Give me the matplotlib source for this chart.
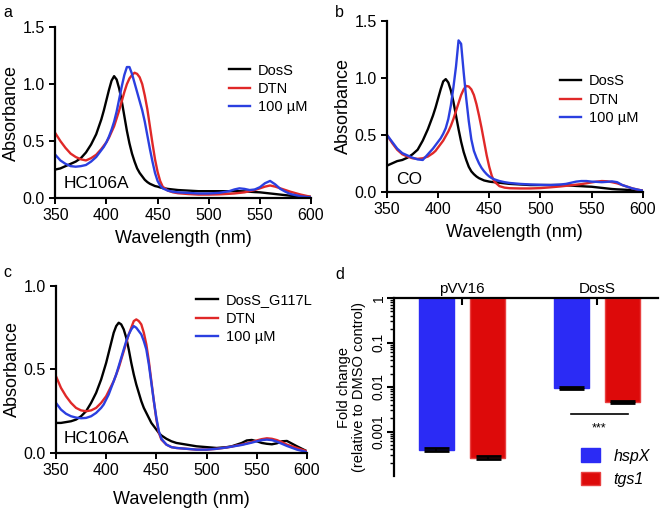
import matplotlib
matplotlib.use("Agg")
import matplotlib.pyplot as plt
from matplotlib.patches import Patch

plt.rcParams['font.family'] = ['Liberation Sans', 'DejaVu Sans']

# wavelength grid (nm) used for all spectra
wl = [350, 355, 360, 365, 370, 375, 380, 385,
      390, 395, 397.5, 400, 402.5, 405, 407.5, 410,
      412.5, 415, 417.5, 420, 422.5, 425, 427.5, 430,
      432.5, 435, 437.5, 440, 442.5, 445, 447.5, 450,
      452.5, 455, 460, 465, 470, 480, 490, 500,
      510, 520, 525, 530, 535, 540, 545, 550,
      555, 560, 565, 570, 575, 580, 590, 600]

# panel a : HC106A
a_doss = [0.25, 0.26, 0.28, 0.30, 0.32, 0.35, 0.40, 0.47,
          0.56, 0.69, 0.77, 0.86, 0.95, 1.03, 1.07, 1.04,
          0.96, 0.85, 0.72, 0.59, 0.48, 0.39, 0.32, 0.26,
          0.22, 0.19, 0.16, 0.14, 0.125, 0.115, 0.105, 0.10,
          0.093, 0.088, 0.08, 0.075, 0.07, 0.065, 0.06, 0.06,
          0.06, 0.06, 0.06, 0.06, 0.058, 0.055, 0.052, 0.05,
          0.045, 0.04, 0.035, 0.03, 0.025, 0.02, 0.015, 0.01]
a_dtn = [0.57, 0.50, 0.44, 0.39, 0.36, 0.34, 0.33, 0.35,
         0.38, 0.43, 0.46, 0.49, 0.53, 0.58, 0.63, 0.70,
         0.77, 0.85, 0.93, 1.00, 1.05, 1.08, 1.10, 1.09,
         1.06, 1.00, 0.90, 0.78, 0.63, 0.48, 0.34, 0.23,
         0.15, 0.10, 0.065, 0.05, 0.042, 0.035, 0.03, 0.03,
         0.032, 0.037, 0.04, 0.045, 0.05, 0.06, 0.07, 0.085,
         0.10, 0.11, 0.10, 0.085, 0.07, 0.055, 0.03, 0.01]
a_100 = [0.38, 0.33, 0.30, 0.28, 0.275, 0.28, 0.29, 0.32,
         0.36, 0.42, 0.45, 0.49, 0.54, 0.60, 0.67, 0.76,
         0.87, 0.98, 1.08, 1.15, 1.15, 1.09, 1.01, 0.93,
         0.85, 0.77, 0.67, 0.55, 0.43, 0.32, 0.22, 0.15,
         0.11, 0.085, 0.065, 0.055, 0.05, 0.045, 0.04, 0.04,
         0.045, 0.06, 0.075, 0.085, 0.08, 0.07, 0.075, 0.095,
         0.13, 0.15, 0.12, 0.08, 0.055, 0.035, 0.015, 0.005]

# panel b : CO
b_doss = [0.23, 0.25, 0.27, 0.28, 0.30, 0.33, 0.37, 0.45,
          0.55, 0.67, 0.74, 0.82, 0.90, 0.97, 0.99, 0.96,
          0.89, 0.79, 0.67, 0.55, 0.44, 0.35, 0.28, 0.22,
          0.18, 0.155, 0.135, 0.12, 0.11, 0.10, 0.095, 0.09,
          0.087, 0.085, 0.08, 0.075, 0.07, 0.065, 0.06, 0.06,
          0.06, 0.06, 0.058, 0.055, 0.052, 0.05, 0.047, 0.045,
          0.04, 0.035, 0.03, 0.025, 0.022, 0.02, 0.015, 0.01]
b_dtn = [0.50, 0.43, 0.37, 0.33, 0.31, 0.295, 0.29, 0.295,
         0.31, 0.34, 0.36, 0.39, 0.42, 0.45, 0.49, 0.53,
         0.58, 0.64, 0.71, 0.78, 0.85, 0.90, 0.93, 0.925,
         0.90, 0.85, 0.77, 0.67, 0.56, 0.44, 0.32, 0.22,
         0.14, 0.09, 0.05, 0.037, 0.032, 0.03, 0.03, 0.033,
         0.04, 0.048, 0.053, 0.058, 0.063, 0.068, 0.075, 0.083,
         0.09, 0.095, 0.093, 0.085, 0.075, 0.06, 0.03, 0.01]
b_100 = [0.50, 0.44, 0.38, 0.34, 0.32, 0.30, 0.285, 0.28,
         0.33, 0.38, 0.41, 0.44, 0.47, 0.51, 0.56, 0.64,
         0.76, 0.92, 1.10, 1.33, 1.30, 1.05, 0.82, 0.62,
         0.46, 0.36, 0.30, 0.25, 0.21, 0.18, 0.155, 0.135,
         0.12, 0.11, 0.095, 0.085, 0.078, 0.07, 0.065, 0.062,
         0.06, 0.065, 0.07, 0.08, 0.09, 0.095, 0.095, 0.09,
         0.088, 0.085, 0.088, 0.092, 0.085, 0.06, 0.03, 0.01]

# panel c : HC106A, G117L mutant
c_doss = [0.18, 0.18, 0.185, 0.19, 0.20, 0.22, 0.25, 0.30,
          0.36, 0.44, 0.49, 0.54, 0.60, 0.66, 0.72, 0.76,
          0.78, 0.77, 0.74, 0.69, 0.62, 0.54, 0.47, 0.41,
          0.36, 0.31, 0.27, 0.24, 0.21, 0.18, 0.16, 0.14,
          0.12, 0.105, 0.085, 0.07, 0.06, 0.05, 0.04, 0.035,
          0.03, 0.035, 0.04, 0.05, 0.06, 0.075, 0.078, 0.07,
          0.06, 0.055, 0.052, 0.058, 0.07, 0.072, 0.04, 0.01]
c_dtn = [0.46, 0.39, 0.34, 0.30, 0.27, 0.255, 0.25, 0.255,
         0.27, 0.30, 0.32, 0.34, 0.37, 0.40, 0.43, 0.47,
         0.51, 0.56, 0.61, 0.66, 0.71, 0.75, 0.79, 0.80,
         0.79, 0.77, 0.72, 0.65, 0.55, 0.43, 0.31, 0.20,
         0.12, 0.08, 0.05, 0.035, 0.03, 0.025, 0.02, 0.02,
         0.025, 0.033, 0.038, 0.045, 0.05, 0.058, 0.066, 0.075,
         0.083, 0.088, 0.085, 0.077, 0.065, 0.05, 0.03, 0.01]
c_100 = [0.30, 0.26, 0.235, 0.22, 0.212, 0.208, 0.21, 0.22,
         0.24, 0.27, 0.29, 0.32, 0.35, 0.39, 0.43, 0.47,
         0.52, 0.57, 0.62, 0.67, 0.71, 0.74, 0.76, 0.75,
         0.73, 0.71, 0.67, 0.62, 0.53, 0.42, 0.31, 0.21,
         0.13, 0.085, 0.05, 0.035, 0.03, 0.025, 0.02, 0.02,
         0.025, 0.033, 0.038, 0.043, 0.048, 0.055, 0.062, 0.07,
         0.077, 0.08, 0.077, 0.068, 0.055, 0.042, 0.02, 0.005]

# panel d : fold change
strains = ["pVV16", "DosS"]
hspx = [3.9e-4, 0.0095]
tgs1 = [2.6e-4, 0.0046]
hspx_err = [0.3e-4, 0.0006]
tgs1_err = [0.2e-4, 0.0003]

BLACK = "black"
RED = "#E02828"
BLUE = "#2B3FE0"
BAR_BLUE = "#2B2BF5"
BAR_RED = "#DD0A0A"

fig = plt.figure(figsize=(6.66, 5.13), dpi=100)


def spectrum_panel(rect, ys, labels, ymax, yticks, tag, tag_xy, leg_anchor):
    ax = fig.add_axes(rect)
    for y, lab, col in zip(ys, labels, [BLACK, RED, BLUE]):
        ax.plot(wl, y, color=col, lw=1.7, label=lab, solid_joinstyle='round')
    ax.set_xlim(350, 600)
    ax.set_ylim(0, ymax)
    ax.set_xticks([350, 400, 450, 500, 550, 600])
    ax.set_yticks(yticks)
    ax.set_yticklabels([f"{t:.1f}" for t in yticks])
    ax.spines['top'].set_visible(False)
    ax.spines['right'].set_visible(False)
    for s in ['left', 'bottom']:
        ax.spines[s].set_linewidth(1.6)
    ax.tick_params(width=1.4, length=4, labelsize=11.5)
    ax.set_xlabel("Wavelength (nm)", fontsize=13, labelpad=5)
    ax.set_ylabel("Absorbance", fontsize=13, labelpad=2)
    ax.text(tag_xy[0], tag_xy[1], tag, fontsize=12.5, va='center', ha='left')
    ax.legend(loc='upper right', bbox_to_anchor=leg_anchor, frameon=False,
              fontsize=10.5, handlelength=1.45, handletextpad=0.55,
              labelspacing=0.3, borderpad=0)
    return ax


spectrum_panel([0.083, 0.614, 0.384, 0.333], [a_doss, a_dtn, a_100],
               ["DosS", "DTN", "100 µM"], 1.5, [0.0, 0.5, 1.0, 1.5],
               "HC106A", (358, 0.13), (1.015, 0.83))
spectrum_panel([0.581, 0.626, 0.384, 0.333], [b_doss, b_dtn, b_100],
               ["DosS", "DTN", "100 µM"], 1.5, [0.0, 0.5, 1.0, 1.5],
               "CO", (359, 0.105), (1.012, 0.73))
ax_c = spectrum_panel([0.084, 0.117, 0.377, 0.3255], [c_doss, c_dtn, c_100],
                      ["DosS_G117L", "DTN", "100 µM"], 1.0, [0.0, 0.5, 1.0],
                      "HC106A", (358, 0.084), (1.05, 1.0))
ax_c.xaxis.labelpad = 9

# panel d
ax = fig.add_axes([0.5916, 0.072, 0.396, 0.347])
ax.set_yscale('log')
xs = [0, 1]
off = 0.19
w = 0.26
ax.bar([x - off for x in xs], [v - 1 for v in hspx], bottom=1, width=w,
       color=BAR_BLUE, edgecolor=BAR_BLUE, label="hspX")
ax.bar([x + off for x in xs], [v - 1 for v in tgs1], bottom=1, width=w,
       color=BAR_RED, edgecolor="#E84040", label="tgs1")
ax.errorbar([x - off for x in xs], hspx, yerr=hspx_err, fmt='none', ecolor='black',
            elinewidth=1.5, capsize=9, capthick=2)
ax.errorbar([x + off for x in xs], tgs1, yerr=tgs1_err, fmt='none', ecolor='black',
            elinewidth=1.5, capsize=9, capthick=2)
ax.set_xlim(-0.504, 1.452)
ax.set_ylim(1e-4, 1)
ax.xaxis.tick_top()
ax.set_xticks(xs)
ax.set_xticklabels(strains, fontsize=11)
ax.tick_params(axis='x', direction='in', length=5, width=1.5, pad=1.5)
ax.tick_params(axis='y', which='major', length=5, width=1.5, labelsize=10, pad=1)
ax.tick_params(axis='y', which='minor', length=3, width=1.0)
ax.set_yticks([1, 0.1, 0.01, 0.001])
ax.set_yticklabels(["1", "0.1", "0.01", "0.001"], rotation=90, va='center')
ax.spines['bottom'].set_visible(False)
ax.spines['right'].set_visible(False)
ax.spines['top'].set_linewidth(1.6)
ax.spines['left'].set_linewidth(1.6)
ax.set_ylabel("Fold change\n(relative to DMSO control)", fontsize=10.5, labelpad=4,
              linespacing=1.1)
ax.plot([0.807, 1.23], [0.0025, 0.0025], color='black', lw=1.2)
ax.text(1.02, 0.0012, "***", ha='center', va='center', fontsize=9)
handles = [Patch(facecolor=BAR_BLUE, edgecolor=BAR_BLUE),
           Patch(facecolor=BAR_RED, edgecolor="#E84040")]
leg = ax.legend(handles, ["hspX", "tgs1"], loc='upper left', bbox_to_anchor=(0.68, 0.20),
                frameon=False, fontsize=11.5, handlelength=1.2, handleheight=0.9,
                labelspacing=0.5, borderpad=0)
for t in leg.get_texts():
    t.set_fontstyle('italic')

for letter, (x, y) in zip("abcd", [(0.005, 0.975), (0.503, 0.975), (0.005, 0.468), (0.503, 0.465)]):
    fig.text(x, y, letter, fontsize=11.5, va='center', ha='left')

fig.savefig("out.png", dpi=100)
